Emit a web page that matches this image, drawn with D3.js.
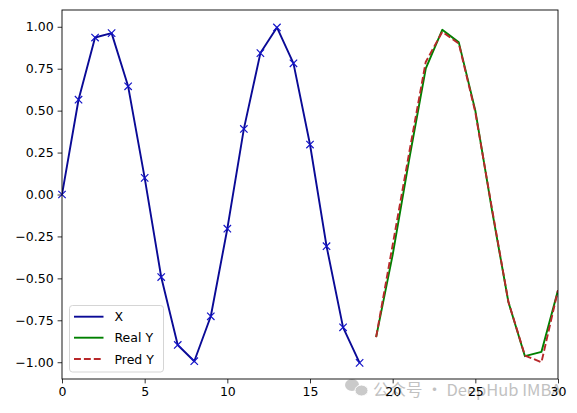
<!DOCTYPE html>
<html>
<head>
<meta charset="utf-8">
<script src="https://cdn.jsdelivr.net/npm/d3@7"></script>
<style>
  html, body { margin: 0; padding: 0; background: #fff; }
  svg { display: block; }
  text { font-family: "DejaVu Sans", sans-serif; }
</style>
</head>
<body>
<svg id="chart" width="577" height="413"></svg>
<script>
// ---- data ----
const xSteps = [0,1,2,3,4,5,6,7,8,9,10,11,12,13,14,15,16,17,18];
const xValues = [0.00,0.565,0.936,0.962,0.645,0.099,-0.492,-0.897,-0.994,-0.726,-0.204,0.391,0.843,0.996,0.782,0.298,-0.308,-0.792,-1.004];

const ySteps = [19,20,21,22,23,24,25,26,27,28,29,30];
const realY = [-0.85,-0.36,0.21,0.75,0.982,0.907,0.50,-0.09,-0.641,-0.964,-0.938,-0.571];
const predY = [-0.85,-0.30,0.25,0.79,0.97,0.90,0.49,-0.08,-0.64,-0.96,-1.00,-0.57];

const xTicks = [0,5,10,15,20,25,30];
const yTicks = [-1.00,-0.75,-0.50,-0.25,0.00,0.25,0.50,0.75,1.00];

const legendLabels = ["X","Real Y","Pred Y"];

// ---- layout ----
const svg = d3.select("#chart");
const L = 62, R = 558, T = 10, B = 379;
const x = d3.scaleLinear().domain([0,30]).range([L,R]);
const y = d3.scaleLinear().domain([-1.1,1.1]).range([B,T]);

const fmt = v => d3.format(".2f")(v).replace("-", "\u2212");

// watermark (drawn first, tick labels sit above it)
const wm = svg.append("g").attr("opacity", 0.7);
wm.append("ellipse").attr("cx", 352).attr("cy", 385).attr("rx", 7).attr("ry", 6).attr("fill", "#b5b5b5");
wm.append("ellipse").attr("cx", 361.5).attr("cy", 390.5).attr("rx", 6.5).attr("ry", 5.5).attr("fill", "#b5b5b5").attr("stroke", "#fff").attr("stroke-width", 1);
wm.append("text").attr("x", 373).attr("y", 390).attr("dy", "0.36em")
  .style("font-size", "16.5px").style("font-family", "Noto Sans CJK SC, DejaVu Sans, sans-serif")
  .attr("fill", "#a8a8a8").text("公众号 · DeepHub IMBA");

// axes
const xAxis = d3.axisBottom(x).tickValues(xTicks).tickSize(4.4).tickPadding(4).tickFormat(d3.format("d"));
const yAxis = d3.axisLeft(y).tickValues(yTicks).tickSize(4.4).tickPadding(4).tickFormat(fmt);

const gx = svg.append("g").attr("transform", `translate(0,${B})`).call(xAxis);
const gy = svg.append("g").attr("transform", `translate(${L},0)`).call(yAxis);
[gx, gy].forEach(g => {
  g.select(".domain").remove();
  g.selectAll(".tick line").attr("stroke", "#000").attr("stroke-width", 0.8);
  g.selectAll(".tick text").attr("fill", "#000").style("font-size", "12.5px").style("font-family", "DejaVu Sans, sans-serif");
});

// clip
svg.append("clipPath").attr("id", "clip").append("rect")
  .attr("x", L).attr("y", T).attr("width", R - L).attr("height", B - T);

const plot = svg.append("g").attr("clip-path", "url(#clip)");
const line = d3.line().x(d => x(d[0])).y(d => y(d[1]));

const xData = xSteps.map((s, i) => [s, xValues[i]]);
const realData = ySteps.map((s, i) => [s, realY[i]]);
const predData = ySteps.map((s, i) => [s, predY[i]]);

const cX = "#0a0a96", cXm = "#1414c8", cReal = "#008000", cPred = "#b8282a";

plot.append("path").datum(xData).attr("d", line)
  .attr("fill", "none").attr("stroke", cX).attr("stroke-width", 1.9).attr("stroke-linejoin", "round");

const ms = 3.7;
const markers = svg.append("g");
markers.selectAll("path").data(xData).enter().append("path")
  .attr("d", d => {
    const cx = x(d[0]), cy = y(d[1]);
    return `M${cx-ms},${cy-ms}L${cx+ms},${cy+ms}M${cx-ms},${cy+ms}L${cx+ms},${cy-ms}`;
  })
  .attr("stroke", cXm).attr("stroke-width", 1.2).attr("fill", "none");

plot.append("path").datum(realData).attr("d", line)
  .attr("fill", "none").attr("stroke", cReal).attr("stroke-width", 1.9).attr("stroke-linejoin", "round");
plot.append("path").datum(predData).attr("d", line)
  .attr("fill", "none").attr("stroke", cPred).attr("stroke-width", 1.9)
  .attr("stroke-dasharray", "6.9,3").attr("stroke-linejoin", "round");

// frame
svg.append("rect").attr("x", L).attr("y", T).attr("width", R - L).attr("height", B - T)
  .attr("fill", "none").attr("stroke", "#000").attr("stroke-width", 0.9);

// legend
const lg = svg.append("g");
lg.append("rect").attr("x", 69.5).attr("y", 305.5).attr("width", 94).attr("height", 66.5)
  .attr("rx", 3).attr("fill", "#fff").attr("fill-opacity", 0.8).attr("stroke", "#d0d0d0").attr("stroke-width", 0.9);
const rowsY = [316.7, 337.7, 359];
const legColors = [cX, cReal, cPred];
legendLabels.forEach((lab, i) => {
  const ln = lg.append("line").attr("x1", 74).attr("x2", 103.5).attr("y1", rowsY[i]).attr("y2", rowsY[i])
    .attr("stroke", legColors[i]).attr("stroke-width", 1.9);
  if (i === 2) ln.attr("stroke-dasharray", "6.9,3");
  lg.append("text").attr("x", 114.5).attr("y", rowsY[i]).attr("dy", "0.36em")
    .style("font-size", "12.5px").attr("fill", "#000").text(lab);
});
</script>
</body>
</html>
